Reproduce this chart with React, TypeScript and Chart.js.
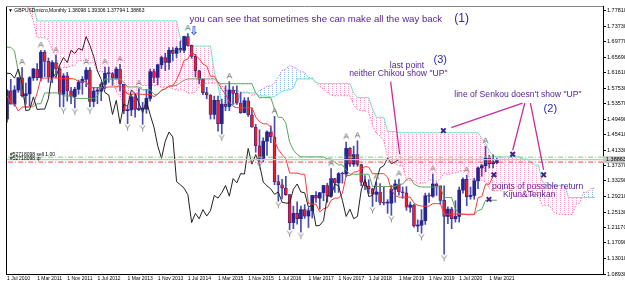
import { useEffect, useRef } from 'react';
import { Chart, registerables } from 'chart.js';

Chart.register(...registerables);

// ---- monthly candles, index 0 = Jul 2010 ... 130 = May 2021 ----
const OPEN = [1.4950,1.5690,1.5340,1.5710,1.6030,1.5560,1.5610,1.6030,1.6260,1.6030,1.6700,1.6460,1.6050,1.6430,1.6260,1.5600,1.6080,1.5690,1.5540,1.5730,1.5910,1.5990,1.6230,1.5410,1.5680,1.5680,1.5860,1.6150,1.6140,1.6020,1.6260,1.5860,1.5170,1.5190,1.5530,1.5200,1.5210,1.5210,1.5490,1.6190,1.6040,1.6370,1.6560,1.6430,1.6750,1.6670,1.6800,1.6750,1.7110,1.6880,1.6590,1.6210,1.5990,1.5640,1.5580,1.5070,1.5440,1.4830,1.5340,1.5280,1.5710,1.5620,1.5370,1.5120,1.5430,1.5060,1.4740,1.4250,1.3920,1.4370,1.4610,1.4480,1.3310,1.3230,1.3140,1.2970,1.2240,1.2480,1.2340,1.2580,1.2410,1.2550,1.2950,1.2880,1.3020,1.3210,1.2930,1.3390,1.3280,1.3520,1.3510,1.4180,1.3770,1.4020,1.3760,1.3300,1.3200,1.3120,1.2980,1.3040,1.2770,1.2750,1.2750,1.3110,1.3250,1.3040,1.3020,1.2640,1.2700,1.2150,1.2170,1.2290,1.2940,1.2930,1.3250,1.3200,1.2820,1.2400,1.2590,1.2340,1.2400,1.3090,1.3370,1.2920,1.2950,1.3330,1.3670,1.3730,1.3930,1.3780,1.3810];
const HIGH = [1.5720,1.5990,1.5820,1.6040,1.6300,1.5890,1.6060,1.6280,1.6400,1.6750,1.6750,1.6550,1.6480,1.6620,1.6300,1.6140,1.6170,1.5780,1.5780,1.5970,1.6060,1.6300,1.6300,1.5780,1.5780,1.5910,1.6310,1.6310,1.6170,1.6310,1.6380,1.5860,1.5260,1.5600,1.5600,1.5750,1.5390,1.5720,1.6260,1.6260,1.6390,1.6600,1.6670,1.6820,1.6820,1.6850,1.6990,1.7120,1.7190,1.6890,1.6640,1.6230,1.6000,1.5780,1.5590,1.5550,1.5550,1.5470,1.5820,1.5930,1.5800,1.5820,1.5650,1.5510,1.5510,1.5240,1.4810,1.4670,1.4460,1.4640,1.4770,1.5020,1.3480,1.3370,1.3450,1.2980,1.2670,1.2780,1.2670,1.2710,1.2620,1.2950,1.3050,1.3030,1.3210,1.3270,1.3650,1.3400,1.3550,1.3560,1.4350,1.4200,1.4240,1.4380,1.3770,1.3470,1.3360,1.3140,1.3300,1.3260,1.3170,1.2840,1.3210,1.3350,1.3380,1.3170,1.3180,1.2780,1.2720,1.2310,1.2580,1.3010,1.3010,1.3510,1.3280,1.3200,1.3200,1.2650,1.2640,1.2810,1.3170,1.3410,1.3480,1.3170,1.3400,1.3700,1.3760,1.4240,1.4000,1.4010,1.3931];
const LOW = [1.4870,1.5340,1.5290,1.5650,1.5530,1.5340,1.5300,1.5960,1.5970,1.5950,1.6060,1.5910,1.5900,1.6110,1.5270,1.5270,1.5420,1.5350,1.5240,1.5600,1.5600,1.5800,1.5270,1.5270,1.5350,1.5430,1.5740,1.5910,1.5830,1.6000,1.5680,1.5090,1.4830,1.5040,1.5000,1.5170,1.4810,1.5100,1.5420,1.5900,1.5850,1.6270,1.6220,1.6250,1.6470,1.6560,1.6690,1.6690,1.6860,1.6540,1.6050,1.5870,1.5590,1.5480,1.4950,1.4950,1.4630,1.4560,1.5170,1.5170,1.5330,1.5330,1.5100,1.5110,1.5020,1.4740,1.4080,1.3830,1.3830,1.4000,1.4330,1.3230,1.2800,1.2860,1.2950,1.2050,1.2080,1.2200,1.1990,1.2350,1.2110,1.2360,1.2770,1.2590,1.2810,1.2770,1.2900,1.3030,1.3030,1.3270,1.3440,1.3710,1.3710,1.3710,1.3200,1.3100,1.3000,1.2660,1.2790,1.2700,1.2700,1.2480,1.2430,1.2770,1.2960,1.2870,1.2560,1.2510,1.2120,1.2000,1.1960,1.2190,1.2770,1.2900,1.2950,1.2720,1.1410,1.2210,1.2080,1.2250,1.2250,1.3010,1.2680,1.2850,1.2850,1.3130,1.3450,1.3570,1.3670,1.3670,1.3779];
const CLOSE = [1.5690,1.5340,1.5710,1.6030,1.5560,1.5610,1.6030,1.6260,1.6030,1.6700,1.6460,1.6050,1.6430,1.6260,1.5600,1.6080,1.5690,1.5540,1.5730,1.5910,1.5990,1.6230,1.5410,1.5680,1.5680,1.5860,1.6150,1.6140,1.6020,1.6260,1.5860,1.5170,1.5190,1.5530,1.5200,1.5210,1.5210,1.5490,1.6190,1.6040,1.6370,1.6560,1.6430,1.6750,1.6670,1.6800,1.6750,1.7110,1.6880,1.6590,1.6210,1.5990,1.5640,1.5580,1.5070,1.5440,1.4830,1.5340,1.5280,1.5710,1.5620,1.5370,1.5120,1.5430,1.5060,1.4740,1.4250,1.3920,1.4370,1.4610,1.4480,1.3310,1.3230,1.3140,1.2970,1.2240,1.2480,1.2340,1.2580,1.2410,1.2550,1.2950,1.2880,1.3020,1.3210,1.2930,1.3390,1.3280,1.3520,1.3510,1.4180,1.3770,1.4020,1.3760,1.3300,1.3200,1.3120,1.2980,1.3040,1.2770,1.2750,1.2750,1.3110,1.3250,1.3040,1.3020,1.2640,1.2700,1.2150,1.2170,1.2290,1.2940,1.2930,1.3250,1.3200,1.2820,1.2400,1.2590,1.2340,1.2400,1.3090,1.3370,1.2920,1.2950,1.3330,1.3670,1.3730,1.3930,1.3780,1.3830,1.3886];

// ---- Ichimoku lines ----
const TENKAN = [1.5555,1.5375,1.534,1.516,1.5265,1.5265,1.5265,1.5325,1.5635,1.602,1.602,1.6025,1.6025,1.6025,1.601,1.601,1.601,1.601,1.5995,1.593,1.593,1.593,1.577,1.577,1.577,1.577,1.5775,1.579,1.579,1.579,1.5825,1.5735,1.5605,1.5605,1.5605,1.5605,1.5595,1.5595,1.5595,1.5535,1.560,1.5705,1.574,1.5815,1.5815,1.5975,1.6205,1.6485,1.652,1.6705,1.662,1.653,1.639,1.6335,1.607,1.607,1.591,1.5725,1.560,1.5395,1.528,1.5245,1.5245,1.5245,1.5245,1.5245,1.5005,1.488,1.4825,1.4825,1.474,1.437,1.4155,1.402,1.391,1.3535,1.3535,1.3535,1.3505,1.3505,1.2735,1.272,1.272,1.252,1.260,1.263,1.282,1.288,1.288,1.3005,1.347,1.347,1.356,1.3575,1.364,1.3705,1.369,1.352,1.352,1.352,1.352,1.343,1.310,1.295,1.2905,1.2905,1.2905,1.2905,1.275,1.269,1.267,1.267,1.267,1.2735,1.2735,1.2735,1.246,1.246,1.246,1.246,1.246,1.246,1.2445,1.2445,1.2445,1.289,1.292,1.3245,1.3245,1.346,1.346];
const KIJUN = [1.683,1.683,1.673,1.619,1.584,1.527,1.527,1.527,1.535,1.535,1.5635,1.5635,1.5635,1.5635,1.5635,1.5555,1.5555,1.5555,1.549,1.549,1.549,1.549,1.549,1.549,1.555,1.581,1.5995,1.5995,1.5995,1.5995,1.5995,1.592,1.579,1.579,1.579,1.579,1.5715,1.5715,1.5715,1.5595,1.560,1.5705,1.574,1.5815,1.5815,1.583,1.590,1.5965,1.600,1.600,1.600,1.600,1.600,1.600,1.600,1.600,1.591,1.5875,1.5875,1.5875,1.5875,1.5875,1.5875,1.5875,1.5875,1.5875,1.5635,1.551,1.551,1.551,1.551,1.521,1.4995,1.4995,1.4845,1.4345,1.414,1.4025,1.396,1.396,1.396,1.396,1.396,1.396,1.396,1.3905,1.3905,1.382,1.375,1.375,1.3615,1.3505,1.3505,1.3505,1.3505,1.3505,1.3505,1.3185,1.3185,1.3185,1.3185,1.3185,1.3185,1.3185,1.3245,1.3245,1.337,1.3405,1.325,1.319,1.317,1.317,1.317,1.317,1.317,1.317,1.2895,1.2895,1.2895,1.259,1.246,1.246,1.246,1.246,1.246,1.2555,1.2585,1.2825,1.2825,1.2825,1.2825];
// plotted index 0..156 (26 bars ahead of the last candle)
const SENKOU_A = [1.96,1.94,1.91,1.88,1.84,1.80,1.778,1.752,1.708,1.708,1.708,1.703,1.676,1.6585,1.6225,1.630,1.630,1.634,1.634,1.650,1.647,1.653,1.643,1.643,1.619,1.619,1.619,1.610,1.6035,1.5675,1.555,1.527,1.527,1.530,1.549,1.5685,1.583,1.583,1.583,1.583,1.582,1.578,1.578,1.578,1.574,1.571,1.571,1.571,1.563,1.563,1.566,1.579,1.5885,1.589,1.589,1.589,1.591,1.583,1.570,1.570,1.570,1.570,1.5655,1.5655,1.5655,1.5565,1.560,1.5705,1.574,1.5815,1.5815,1.590,1.605,1.6225,1.626,1.635,1.631,1.6265,1.6195,1.617,1.6035,1.6035,1.591,1.580,1.574,1.5635,1.558,1.556,1.556,1.556,1.556,1.556,1.532,1.5195,1.517,1.517,1.5125,1.479,1.4575,1.451,1.438,1.394,1.384,1.378,1.373,1.373,1.335,1.334,1.334,1.324,1.328,1.327,1.336,1.335,1.3315,1.338,1.354,1.349,1.353,1.354,1.357,1.3605,1.360,1.335,1.335,1.335,1.335,1.331,1.314,1.307,1.3075,1.3075,1.314,1.3155,1.300,1.294,1.292,1.292,1.292,1.295,1.295,1.295,1.268,1.268,1.268,1.2525,1.246,1.246,1.245,1.245,1.245,1.272,1.275,1.3035,1.3035,1.314,1.314];
const SENKOU_B = [1.84,1.84,1.84,1.84,1.83,1.82,1.80,1.790,1.752,1.752,1.752,1.752,1.752,1.752,1.752,1.752,1.752,1.752,1.752,1.752,1.752,1.752,1.752,1.752,1.752,1.752,1.752,1.752,1.752,1.752,1.752,1.752,1.752,1.752,1.752,1.752,1.752,1.752,1.752,1.752,1.752,1.752,1.752,1.752,1.752,1.752,1.705,1.692,1.686,1.686,1.686,1.686,1.686,1.686,1.686,1.619,1.584,1.527,1.527,1.527,1.535,1.535,1.5635,1.5635,1.5635,1.5635,1.5635,1.5555,1.5555,1.5555,1.5525,1.554,1.561,1.5675,1.571,1.571,1.577,1.600,1.600,1.600,1.600,1.600,1.591,1.5875,1.5875,1.5875,1.5875,1.5875,1.5875,1.5875,1.5875,1.5875,1.5635,1.551,1.551,1.551,1.551,1.521,1.4995,1.4995,1.4995,1.462,1.462,1.462,1.459,1.459,1.459,1.459,1.459,1.459,1.459,1.459,1.459,1.459,1.459,1.459,1.459,1.459,1.459,1.459,1.459,1.459,1.459,1.459,1.459,1.459,1.444,1.4315,1.411,1.3995,1.396,1.396,1.396,1.396,1.396,1.396,1.396,1.3905,1.3905,1.382,1.375,1.375,1.3325,1.3215,1.3215,1.3215,1.3215,1.3215,1.3215,1.2895,1.2895,1.2895,1.2895,1.2895,1.2895,1.2895,1.2895];
const CHIKOU_SHIFT = 26;

const FRACTAL_UP = [4, 9, 13, 21, 26, 30, 35, 48, 59, 71, 86, 90, 93, 98, 104, 113, 122, 127];
const FRACTAL_DOWN = [15, 18, 22, 32, 36, 57, 67, 72, 75, 78, 97, 102, 110, 116];

const X_TICK_INDEX = [0, 8, 16, 24, 32, 40, 48, 56, 64, 72, 80, 88, 96, 104, 112, 120, 128];
const X_TICK_LABELS = ['1 Jul 2010','1 Mar 2011','1 Nov 2011','1 Jul 2012','1 Mar 2013','1 Nov 2013','1 Jul 2014','1 Mar 2015','1 Nov 2015','1 Jul 2016','1 Mar 2017','1 Nov 2017','1 Jul 2018','1 Mar 2019','1 Nov 2019','1 Jul 2020','1 Mar 2021'];
const Y_TICKS = [1.7781,1.7373,1.6977,1.6569,1.6161,1.5753,1.5357,1.4949,1.4541,1.4133,1.3737,1.3329,1.2921,1.2513,1.2117,1.1709,1.1301,1.0893];

const HEADER = '\u25BC GBPUSDmicro,Monthly';
const HEADER_VALUES = [1.38098, 1.39306, 1.37794, 1.38863];
const BID = 1.38863;
const ORDER_OPEN = 1.3952;
const ORDER_TP = 1.3823;
const ORDER_LABELS = ['#52718098 sell 1.00', '#52718098 tp'];

// ---- annotations (data coordinates: bar index, price) ----
const NOTE_TEXTS = ['you can see that sometimes she can make all the way back', '(1)', '\u21E9', 'last point', 'neither Chikou show "UP"', '(3)', 'line of Senkou doesn\'t show "UP"', '(2)', 'points of possible return', 'Kijun&Tenkan'];
const NOTE_X = [48.4, 118.7, 49.7, 101.6, 90.8, 113.2, 118.7, 142.4, 128.7, 131.6];
const NOTE_Y = [1.755, 1.7575, 1.7241, 1.6342, 1.6136, 1.6496, 1.5596, 1.5211, 1.3181, 1.2975];
const MARK_X = [115.8, 134.2, 142.4, 129.2, 127.9];
const MARK_Y = [1.4646, 1.4029, 1.3489, 1.3489, 1.2846];
const POINTER_FROM_X = [101.8, 136.8, 137.4, 138.9];
const POINTER_FROM_Y = [1.5931, 1.5365, 1.5365, 1.5365];
const POINTER_TO_X = [104.2, 117.9, 134.2, 142.4];
const POINTER_TO_Y = [1.4029, 1.4723, 1.4132, 1.3617];

// styles for annotations
const NOTE_STYLE = [
  { font: '9.6px Arial, "Liberation Sans", sans-serif', color: '#55249a', align: 'left' },
  { font: '12px Arial, "Liberation Sans", sans-serif', color: '#2a2aa6', align: 'left' },
  { font: 'bold 12px "DejaVu Sans", sans-serif', color: '#2e58d8', align: 'center' },
  { font: '8.6px Arial, "Liberation Sans", sans-serif', color: '#55249a', align: 'left' },
  { font: '8.6px Arial, "Liberation Sans", sans-serif', color: '#55249a', align: 'left' },
  { font: '11px Arial, "Liberation Sans", sans-serif', color: '#2a2aa6', align: 'left' },
  { font: '8.6px Arial, "Liberation Sans", sans-serif', color: '#55249a', align: 'left' },
  { font: '11px Arial, "Liberation Sans", sans-serif', color: '#2a2aa6', align: 'left' },
  { font: '8.6px Arial, "Liberation Sans", sans-serif', color: '#55249a', align: 'left' },
  { font: '8.6px Arial, "Liberation Sans", sans-serif', color: '#55249a', align: 'left' },
];

function makeDotPattern(ctx: CanvasRenderingContext2D, color: string) {
  const c = document.createElement('canvas');
  c.width = 4;
  c.height = 2;
  const g = c.getContext('2d')!;
  g.fillStyle = color;
  g.fillRect(0, 0, 1, 1);
  return ctx.createPattern(c, 'repeat')!;
}

function makeFractalImg(up: boolean) {
  const c = document.createElement('canvas');
  c.width = 7;
  c.height = 19;
  const g = c.getContext('2d')!;
  g.strokeStyle = '#8a8a8a';
  g.lineWidth = 1;
  g.beginPath();
  if (up) {
    g.moveTo(1, 6.5); g.lineTo(3.5, 1); g.lineTo(6, 6.5);
    g.moveTo(2, 4.5); g.lineTo(5, 4.5);
  } else {
    g.moveTo(1, 10.5); g.lineTo(3.5, 14); g.lineTo(6, 10.5);
    g.moveTo(3.5, 14); g.lineTo(3.5, 16.5);
  }
  g.stroke();
  return c;
}

const overlayPlugin = {
  id: 'overlay',
  afterDraw(chart: any) {
    const { ctx, chartArea: a, scales } = chart;
    const xs = scales.x;
    const ys = scales.y;
    ctx.save();
    ctx.lineWidth = 1;
    ctx.strokeStyle = '#000';
    ctx.beginPath();
    ctx.moveTo(a.left + 0.5, a.top);
    ctx.lineTo(a.left + 0.5, a.bottom);
    ctx.stroke();
    ctx.strokeStyle = '#8a8a8a';
    ctx.beginPath();
    ctx.moveTo(a.left, a.top + 0.5);
    ctx.lineTo(a.right, a.top + 0.5);
    ctx.stroke();

    ctx.fillStyle = '#000';
    ctx.font = '5px Arial, "Liberation Sans", sans-serif';
    ctx.textAlign = 'left';
    ctx.textBaseline = 'middle';
    ctx.fillText(HEADER + ' ' + HEADER_VALUES.map((v) => v.toFixed(5)).join(' '), a.left + 2, a.top + 5);

    ctx.font = '5px Arial, "Liberation Sans", sans-serif';
    ctx.textBaseline = 'bottom';
    ctx.fillText(ORDER_LABELS[0], a.left + 4, ys.getPixelForValue(ORDER_OPEN) - 0.5);
    ctx.fillText(ORDER_LABELS[1], a.left + 4, ys.getPixelForValue(ORDER_TP) - 0.5);

    const by = ys.getPixelForValue(BID);
    ctx.fillStyle = '#c8c8c8';
    ctx.fillRect(a.right, by - 3.5, 22, 7);
    ctx.fillStyle = '#000';
    ctx.font = '5.5px Arial, "Liberation Sans", sans-serif';
    ctx.textBaseline = 'middle';
    ctx.fillText(BID.toFixed(5), a.right + 3, by);

    NOTE_TEXTS.forEach((t, i) => {
      const st = NOTE_STYLE[i];
      ctx.font = st.font;
      ctx.fillStyle = st.color;
      ctx.textAlign = st.align;
      ctx.textBaseline = 'middle';
      ctx.fillText(t, xs.getPixelForValue(NOTE_X[i]), ys.getPixelForValue(NOTE_Y[i]));
    });
    ctx.restore();
  },
};

export default function App() {
  const ref = useRef<HTMLCanvasElement>(null);
  useEffect(() => {
    document.body.style.margin = '0';
    const canvas = ref.current!;
    const ctx = canvas.getContext('2d')!;
    const bluePat = makeDotPattern(ctx, '#8cb6f0');
    const pinkPat = makeDotPattern(ctx, '#ff9cc8');
    const upImg = makeFractalImg(true);
    const dnImg = makeFractalImg(false);
    const bull = CLOSE.map((c, i) => c >= OPEN[i]);
    const line = (data: any[], color: string, order: number, extra: any = {}) => ({
      type: 'line', data, borderColor: color, borderWidth: 1, pointRadius: 0, tension: 0, fill: false, order, ...extra,
    });

    const datasets: any[] = [
      line(SENKOU_A.map((v, i) => ({ x: i, y: v })), '#ff66b0', 20, {
        borderDash: [1.5, 1.5],
        fill: { target: 1, above: bluePat, below: pinkPat },
      }),
      line(SENKOU_B.map((v, i) => ({ x: i, y: v })), '#6ee6c6', 19),
      {
        type: 'bar', data: HIGH.map((h, i) => ({ x: i, y: [LOW[i], h] })),
        backgroundColor: '#4a4ab0', barThickness: 1, grouped: false, order: 18,
      },
      {
        type: 'bar', data: OPEN.map((o, i) => ({ x: i, y: [o, CLOSE[i]] })),
        backgroundColor: bull.map((b) => (b ? '#25258f' : '#ee1c24')),
        borderColor: '#25258f', borderWidth: bull.map((b) => (b ? 0 : 0.7)), borderSkipped: false,
        barThickness: 3, grouped: false, minBarLength: 1, order: 17,
      },
      line(KIJUN.map((v, i) => ({ x: i, y: v })), '#5ea35e', 16),
      line(TENKAN.map((v, i) => ({ x: i, y: v })), '#ff3838', 15),
      line(CLOSE.map((v, i) => ({ x: i - CHIKOU_SHIFT, y: v })), '#222222', 14),
      line([{ x: -5, y: ORDER_OPEN }, { x: 170, y: ORDER_OPEN }], '#7ccf7c', 13, { borderDash: [5, 2, 1, 2] }),
      line([{ x: -5, y: BID }, { x: 170, y: BID }], '#c4c4c4', 12, { borderWidth: 1.4 }),
      line([{ x: -5, y: ORDER_TP }, { x: 170, y: ORDER_TP }], '#ff4040', 11, { borderDash: [5, 2, 1, 2] }),
      line(FRACTAL_UP.map((i) => ({ x: i, y: HIGH[i] })), '#888', 10, { showLine: false, pointRadius: 3, pointStyle: upImg }),
      line(FRACTAL_DOWN.map((i) => ({ x: i, y: LOW[i] })), '#888', 9, { showLine: false, pointRadius: 3, pointStyle: dnImg }),
      ...POINTER_FROM_X.map((fx, i) =>
        line([{ x: fx, y: POINTER_FROM_Y[i] }, { x: POINTER_TO_X[i], y: POINTER_TO_Y[i] }], '#cc2a9a', 5, { borderWidth: 1.3 })
      ),
      line(MARK_X.map((mx, i) => ({ x: mx, y: MARK_Y[i] })), '#4a1d8e', 1, {
        showLine: false, pointRadius: 3.2, pointStyle: 'crossRot', pointBorderWidth: 2, pointBorderColor: '#4a1d8e',
      }),
    ];

    const chart = new Chart(canvas, {
      type: 'line',
      data: { datasets },
      options: {
        responsive: false,
        animation: false,
        devicePixelRatio: 1,
        events: [],
        layout: { padding: { left: 1, top: 1, right: 0, bottom: 0 } },
        plugins: {
          legend: { display: false },
          tooltip: { enabled: false },
          filler: { drawTime: 'beforeDatasetsDraw', propagate: false },
        },
        scales: {
          x: {
            type: 'linear', min: -0.263, max: 158.16, offset: false,
            grid: { display: false, drawTicks: false },
            border: { display: true, color: '#000', width: 1 },
            ticks: {
              color: '#000', font: { size: 5, family: 'Arial, "Liberation Sans", sans-serif' }, padding: 2,
              align: 'start', maxRotation: 0, autoSkip: false,
              callback: (v: any) => X_TICK_LABELS[X_TICK_INDEX.indexOf(v)] ?? '',
            },
            afterBuildTicks: (s: any) => { s.ticks = X_TICK_INDEX.map((v) => ({ value: v })); },
            afterFit: (s: any) => { s.height = 10; },
          },
          y: {
            type: 'linear', position: 'right', min: 1.0893, max: 1.79095,
            grid: { display: true, drawOnChartArea: false, drawTicks: true, tickLength: 3, color: '#000' },
            border: { display: true, color: '#000', width: 1 },
            ticks: {
              color: '#000', font: { size: 5.5, family: 'Arial, "Liberation Sans", sans-serif' }, padding: 1,
              autoSkip: false, callback: (v: any) => Number(v).toFixed(5),
            },
            afterBuildTicks: (s: any) => { s.ticks = Y_TICKS.map((v) => ({ value: v })); },
            afterFit: (s: any) => { s.width = 22; },
          },
        },
      } as any,
      plugins: [overlayPlugin as any],
    } as any);
    return () => chart.destroy();
  }, []);
  return <canvas ref={ref} width={625} height={284} style={{ display: 'block' }} />;
}
